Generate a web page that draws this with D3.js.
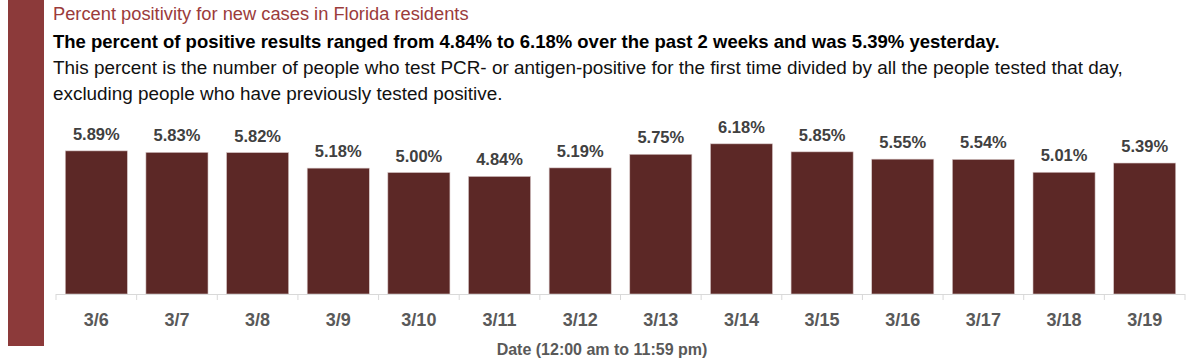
<!DOCTYPE html>
<html>
<head>
<meta charset="utf-8">
<script src="https://cdn.jsdelivr.net/npm/d3@7"></script>
<style>
  body { margin: 0; background: #fff; }
  text { font-family: "Liberation Sans", Arial, sans-serif; }
</style>
</head>
<body>
<div id="chart"></div>
<script>
// percent positivity, new cases in Florida residents
var dates = ["3/6", "3/7", "3/8", "3/9", "3/10", "3/11", "3/12", "3/13", "3/14", "3/15", "3/16", "3/17", "3/18", "3/19"];
var positivity = [5.89, 5.83, 5.82, 5.18, 5.00, 4.84, 5.19, 5.75, 6.18, 5.85, 5.55, 5.54, 5.01, 5.39];

var W = 1200, H = 363;
var plot = { left: 56, right: 1185, base: 294 };

var svg = d3.select("#chart").append("svg")
  .attr("width", W)
  .attr("height", H);

// side stripe
svg.append("rect")
  .attr("x", 8).attr("y", 0)
  .attr("width", 36).attr("height", 346)
  .attr("fill", "#8c3a3a");

svg.append("text")
  .attr("x", 53).attr("y", 20)
  .attr("fill", "#9b3b3b")
  .style("font-size", "18.3px")
  .text("Percent positivity for new cases in Florida residents");

svg.append("text")
  .attr("x", 53).attr("y", 48)
  .attr("fill", "#000")
  .style("font-size", "18.5px")
  .style("font-weight", "bold")
  .text("The percent of positive results ranged from 4.84% to 6.18% over the past 2 weeks and was 5.39% yesterday.");

svg.append("text")
  .attr("x", 53).attr("y", 74)
  .attr("fill", "#111")
  .style("font-size", "18.9px")
  .text("This percent is the number of people who test PCR- or antigen-positive for the first time divided by all the people tested that day,");

svg.append("text")
  .attr("x", 53).attr("y", 100)
  .attr("fill", "#111")
  .style("font-size", "18.9px")
  .text("excluding people who have previously tested positive.");

var x = d3.scaleBand()
  .domain(dates)
  .range([plot.left, plot.right])
  .paddingInner(0.23)
  .paddingOuter(0.115);

// 24.3 px per percentage point
var y = d3.scaleLinear()
  .domain([0, 7])
  .range([plot.base, plot.base - 7 * 24.3]);

svg.selectAll(".bar")
  .data(positivity).enter()
  .append("rect")
  .attr("class", "bar")
  .attr("x", function(d, i){ return x(dates[i]); })
  .attr("y", function(d){ return y(d); })
  .attr("width", x.bandwidth())
  .attr("height", function(d){ return y(0) - y(d); })
  .attr("fill", "#5c2826")
  .attr("stroke", "#d8c8c8")
  .attr("stroke-width", 0.6);

svg.selectAll(".lbl")
  .data(positivity).enter()
  .append("text")
  .attr("class", "lbl")
  .attr("x", function(d, i){ return x(dates[i]) + x.bandwidth() / 2; })
  .attr("y", function(d){ return y(d) - 11; })
  .attr("text-anchor", "middle")
  .attr("fill", "#404040")
  .style("font-size", "16.5px")
  .style("font-weight", "bold")
  .text(function(d){ return d.toFixed(2) + "%"; });

// baseline + band boundary ticks
svg.append("line")
  .attr("x1", plot.left).attr("x2", plot.right)
  .attr("y1", plot.base + 0.5).attr("y2", plot.base + 0.5)
  .attr("stroke", "#d9d9d9");

var step = x.step();
var bounds = d3.range(dates.length + 1).map(function(i){ return plot.left + i * step; });
svg.selectAll(".tk")
  .data(bounds).enter()
  .append("line")
  .attr("class", "tk")
  .attr("x1", function(d){ return d; }).attr("x2", function(d){ return d; })
  .attr("y1", plot.base).attr("y2", plot.base + 6)
  .attr("stroke", "#d9d9d9");

svg.selectAll(".xl")
  .data(dates).enter()
  .append("text")
  .attr("class", "xl")
  .attr("x", function(d){ return x(d) + x.bandwidth() / 2; })
  .attr("y", 326)
  .attr("text-anchor", "middle")
  .attr("fill", "#595959")
  .style("font-size", "18px")
  .style("font-weight", "bold")
  .text(function(d){ return d; });

svg.append("text")
  .attr("x", 602).attr("y", 355)
  .attr("text-anchor", "middle")
  .attr("fill", "#595959")
  .style("font-size", "16px")
  .style("font-weight", "bold")
  .style("font-family", "'Liberation Sans Narrow', 'Liberation Sans', sans-serif")
  .text("Date (12:00 am to 11:59 pm)");
</script>
</body>
</html>
